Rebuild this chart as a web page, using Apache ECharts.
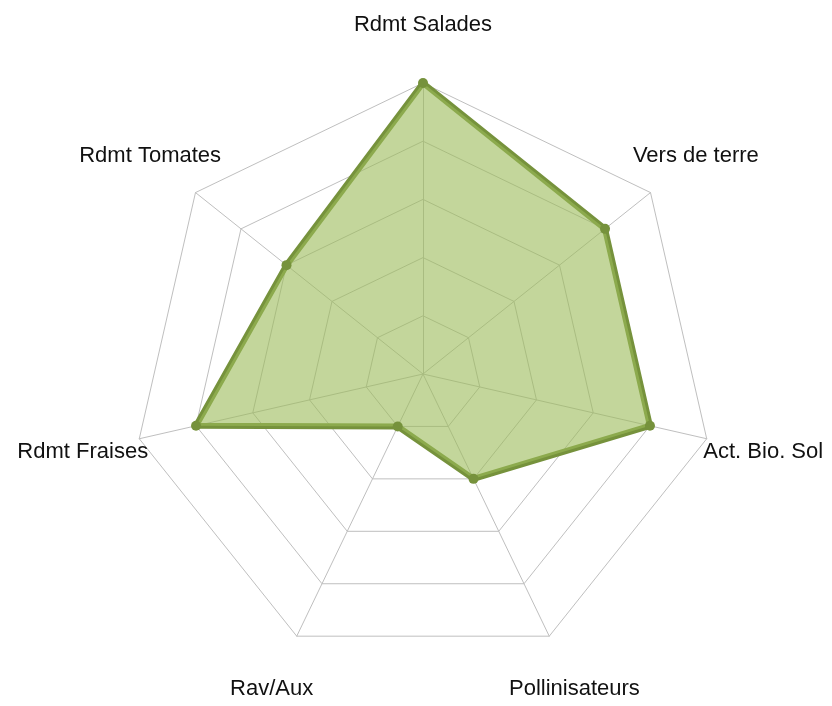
<!DOCTYPE html>
<html>
<head>
<meta charset="utf-8">
<script src="https://cdn.jsdelivr.net/npm/echarts@6/dist/echarts.min.js"></script>
<style>
  html, body { margin: 0; padding: 0; background: #fff; }
  #mainChart { width: 832px; height: 706px; }
</style>
</head>
<body>
<div id="mainChart"></div>
<script>
// indicators listed counter-clockwise from the top (echarts radar order)
var indicatorNames = ['Rdmt Salades', 'Rdmt Tomates', 'Rdmt Fraises', 'Rav/Aux', 'Pollinisateurs', 'Act. Bio. Sol', 'Vers de terre'];
var scores = [5, 3, 4, 1, 2, 4, 4];
var maxScore = 5;

var myChart = echarts.init(document.getElementById('mainChart'));

var option = {
    backgroundColor: '#fff',
    animation: false,
    radar: {
        center: [423, 374],
        radius: 291,
        startAngle: 90,
        splitNumber: 5,
        shape: 'polygon',
        indicator: indicatorNames.map(function (n) {
            return { name: n, min: 0, max: maxScore };
        }),
        nameGap: 58,
        axisName: {
            color: '#111',
            fontSize: 22,
            fontFamily: 'Liberation Sans',
            align: 'center',
            verticalAlign: 'middle'
        },
        splitLine: {
            lineStyle: { color: '#bfbfbf', width: 1 }
        },
        splitArea: { show: false },
        axisLine: {
            lineStyle: { color: '#bfbfbf', width: 1 }
        },
        axisTick: { show: false },
        axisLabel: { show: false }
    },
    series: [
        {
            type: 'radar',
            symbol: 'circle',
            symbolSize: 10,
            lineStyle: { color: '#76923c', width: 6 },
            itemStyle: { color: '#76923c' },
            areaStyle: { color: '#9bbb59', opacity: 0.6 },
            data: [
                { value: scores, name: 'Score' }
            ]
        }
    ]
};
myChart.setOption(option);
</script>
</body>
</html>
